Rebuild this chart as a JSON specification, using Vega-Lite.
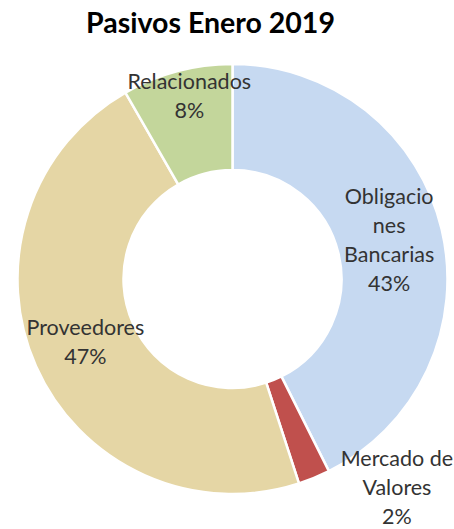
{
  "$schema": "https://vega.github.io/schema/vega-lite/v6.json",
  "width": 443,
  "height": 458,
  "autosize": "none",
  "padding": {"left": 11, "top": 50, "right": 0, "bottom": 21},
  "background": "white",
  "view": {"stroke": null},
  "title": {
    "text": "Pasivos Enero 2019",
    "font": "Lato",
    "fontSize": 28.5,
    "fontWeight": "bold",
    "color": "#000000",
    "anchor": "middle",
    "frame": "group",
    "baseline": "alphabetic",
    "dx": -22,
    "dy": 28,
    "offset": 17
  },
  "data": {
    "values": [
      {"name": "Obligaciones Bancarias", "orden": 1, "value": 42.6, "label": "Obligacio\nnes\nBancarias\n43%"},
      {"name": "Mercado de Valores", "orden": 2, "value": 2.4, "label": "Mercado de\nValores\n2%"},
      {"name": "Proveedores", "orden": 3, "value": 46.7, "label": "Proveedores\n47%"},
      {"name": "Relacionados", "orden": 4, "value": 8.3, "label": "Relacionados\n8%"}
    ]
  },
  "encoding": {
    "theta": {"field": "value", "type": "quantitative", "stack": true},
    "order": {"field": "orden", "type": "quantitative"}
  },
  "layer": [
    {
      "mark": {"type": "arc", "outerRadius": 215, "innerRadius": 109, "stroke": "white", "strokeWidth": 2.5},
      "encoding": {
        "color": {
          "field": "name",
          "type": "nominal",
          "scale": {
            "domain": ["Obligaciones Bancarias", "Mercado de Valores", "Proveedores", "Relacionados"],
            "range": ["#C6D9F1", "#C0504D", "#E5D6A5", "#C3D69B"]
          },
          "legend": null
        }
      }
    },
    {
      "mark": {"type": "text", "radius": 161, "dy": -43.5, "font": "Lato", "fontSize": 21.5, "color": "#333333", "lineBreak": "\n", "lineHeight": 29, "align": "center", "baseline": "middle"},
      "encoding": {
        "text": {"condition": {"test": "datum.name === 'Obligaciones Bancarias'", "field": "label"}, "value": ""}
      }
    },
    {
      "mark": {"type": "text", "radius": 161, "dy": -15, "font": "Lato", "fontSize": 21.5, "color": "#333333", "lineBreak": "\n", "lineHeight": 29, "align": "center", "baseline": "middle"},
      "encoding": {
        "text": {"condition": {"test": "datum.name === 'Proveedores'", "field": "label"}, "value": ""}
      }
    },
    {
      "mark": {"type": "text", "radius": 187, "dx": 5, "dy": -15, "font": "Lato", "fontSize": 21.5, "color": "#333333", "lineBreak": "\n", "lineHeight": 29, "align": "center", "baseline": "middle"},
      "encoding": {
        "text": {"condition": {"test": "datum.name === 'Relacionados'", "field": "label"}, "value": ""}
      }
    },
    {
      "mark": {"type": "text", "radius": 196, "dx": 90, "font": "Lato", "fontSize": 21.5, "color": "#333333", "lineBreak": "\n", "lineHeight": 29, "align": "center", "baseline": "middle"},
      "encoding": {
        "text": {"condition": {"test": "datum.name === 'Mercado de Valores'", "field": "label"}, "value": ""}
      }
    }
  ]
}
